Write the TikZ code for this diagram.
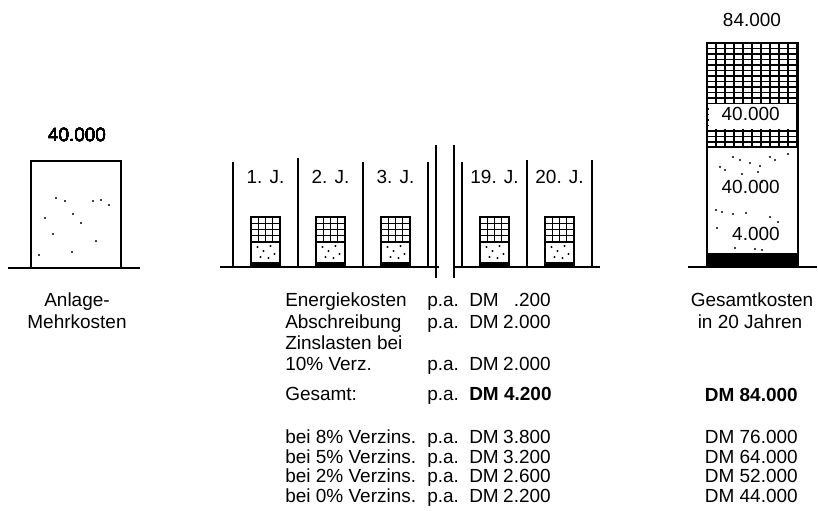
\documentclass[tikz,border=0pt]{standalone}
\usepackage{fontspec}
\setmainfont{Liberation Sans}
\usetikzlibrary{positioning}
\tikzset{
  lbl/.style={font=\fontsize{13.5}{16}\selectfont,inner sep=0pt},
  outl/.style={line width=1.4pt},
  grnd/.style={line width=1.1pt},
  sep/.style={line width=1.1pt},
  hatch/.style={line width=0.8pt},
}
\newcommand{\dotat}[2]{\fill (#1,#2) circle (1.1);}

\begin{document}
\begin{tikzpicture}[x=0.025cm,y=-0.025cm]
  \useasboundingbox (0,0) rectangle (818,511);

  % Anlage-Mehrkosten
  \draw[grnd] (8,268) -- (140,268);
  \draw[outl] (31,161) rectangle (121,268);
  \foreach \px/\py in {56/198,65/201,93/201,101/200,109/205,45/218,73/214,81/223,53/234,96/241,39/255,72/252}
    \dotat{\px}{\py}
  \node[lbl] (anlval) at (77,135) {40.000};
  \node[lbl,anchor=mid] (anl1) at (77,303) {Anlage-};
  \node[lbl,anchor=mid] (anl2) at (77,325) {Mehrkosten};

  % Jahreskosten
  \draw[grnd] (220,267) -- (439,267);
  \draw[grnd] (455,267) -- (600,267);
  \foreach \sx/\st in {233/162,298/158,363/162,428/162,462/162,527/160,592/160}
    \draw[sep] (\sx,\st) -- (\sx,267);
  \draw[sep] (436,145) -- (436,278);
  \draw[sep] (454,145) -- (454,278);
  \foreach \n/\cx in {1/265.5,2/330.5,3/395.5,19/494.5,20/559.5}{
    \node[lbl] (yr\n) at (\cx,177) {\n. J.};
    \fill (\cx-14.5,262) rectangle (\cx+14.5,267);
    \foreach \k in {0,...,4}{
      \draw[hatch] (\cx-14.5+\k*7.25,217) -- ++(0,25);
      \draw[hatch] (\cx-14.5,217+\k*6.25) -- ++(29,0);
    }
    \foreach \dx/\dy in {-8/247,-2/251,5/246,9/254,-5/257,3/258}
      \dotat{\cx+\dx}{\dy}
    \draw[outl] (\cx-14.5,217) rectangle (\cx+14.5,267);
  }

  % Gesamtkosten
  \draw[grnd] (688,267) -- (817,267);
  \begin{scope}
    \clip (707,43) rectangle (798,147);
    \foreach \gx in {707,716,...,800}
      \draw[hatch] (\gx,43) -- (\gx,147);
    \foreach \gy in {43,48.5,...,150}
      \draw[hatch] (707,\gy) -- (798,\gy);
  \end{scope}
  \fill[white] (709,104) rectangle (796,129);
  \fill (707,253) rectangle (798,267);
  \foreach \px/\py in {733/157,740/160,750/163,770/157,775/160,788/154,720/167,725/170,760/166,758/172,742/174,762/182,716/210,722/212,733/214,746/213,770/217,778/222,717/228,735/248,755/249,762/250}
    \dotat{\px}{\py}
  \draw[outl] (707,43) rectangle (798,267);
  \draw[outl] (707,147) -- (798,147);
  \node[lbl] (totval) at (752,20) {84.000};
  \node[lbl,anchor=mid east] (zins) at (780,117) {40.000};
  \node[lbl,anchor=mid east] (abschr) at (780,190) {40.000};
  \node[lbl,anchor=mid east] (energ) at (780,237) {4.000};
  \node[lbl,anchor=mid] (ges1) at (752,303) {Gesamtkosten};
  \node[lbl,anchor=mid] (ges2) at (750,325) {in 20 Jahren};

  % Tabelle
  \foreach \i/\y/\lab/\val in {1/303/Energiekosten/.200,2/325/Abschreibung/2.000,4/367/10\% Verz./2.000}{
    \node[lbl,anchor=mid west] (lab\i) at (285,\y) {\lab};
    \node[lbl,anchor=mid west] (pa\i) at (427,\y) {p.a.};
    \node[lbl,anchor=mid west] (dm\i) at (469,\y) {DM};
    \node[lbl,anchor=mid east] (val\i) at (551,\y) {\val};
  }
  \node[lbl,anchor=mid west] (lab3) at (285,346) {Zinslasten bei};
  \node[lbl,anchor=mid west] (labsum) at (285,397) {Gesamt:};
  \node[lbl,anchor=mid west] (pasum) at (427,397) {p.a.};
  \node[lbl,anchor=mid west,font=\fontsize{13.5}{16}\selectfont\bfseries] (valsum) at (469,397) {DM 4.200};
  \node[lbl,anchor=mid east,font=\fontsize{13.5}{16}\selectfont\bfseries] (totsum) at (798,398) {DM 84.000};
  \foreach \i/\y/\p/\val/\tot in {1/440/8/3.800/76.000,2/459.5/5/3.200/64.000,3/479/2/2.600/52.000,4/498.5/0/2.200/44.000}{
    \node[lbl,anchor=mid west] (bei\i) at (285,\y) {bei \p\% Verzins.};
    \node[lbl,anchor=mid west] (beipa\i) at (427,\y) {p.a.};
    \node[lbl,anchor=mid west] (beidm\i) at (469,\y) {DM};
    \node[lbl,anchor=mid east] (beival\i) at (551,\y) {\val};
    \node[lbl,anchor=mid east] (beitot\i) at (798,\y) {DM \tot};
  }
\end{tikzpicture}
\end{document}
